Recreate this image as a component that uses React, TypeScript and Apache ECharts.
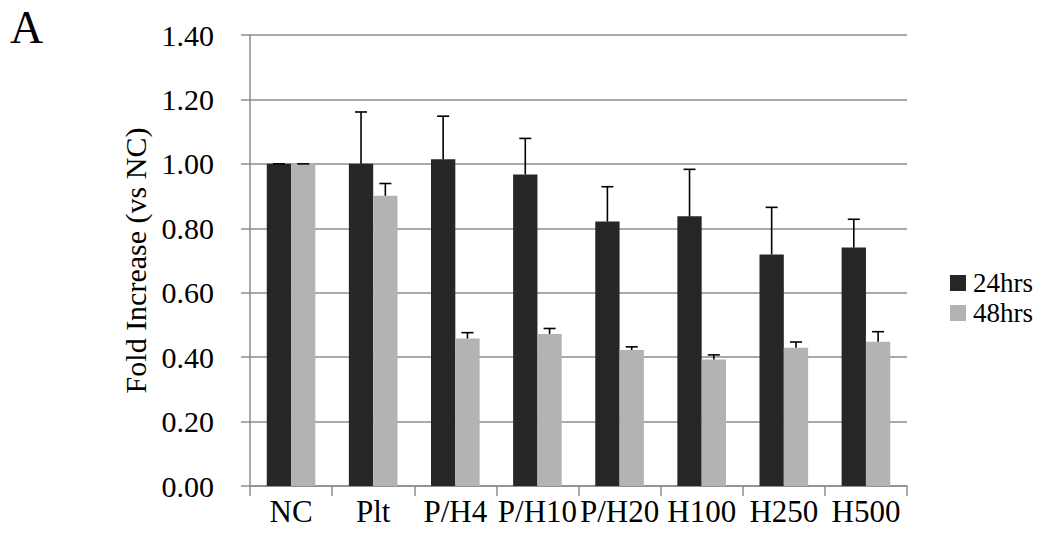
import React, { useEffect, useRef } from "react";
import * as echarts from "echarts";

const categories = ["NC", "Plt", "P/H4", "P/H10", "P/H20", "H100", "H250", "H500"];
const values24 = [1.0, 1.0, 1.014, 0.967, 0.821, 0.837, 0.719, 0.74];
const err24 = [0.0, 0.161, 0.134, 0.112, 0.108, 0.146, 0.146, 0.088];
const values48 = [1.0, 0.901, 0.458, 0.472, 0.422, 0.393, 0.429, 0.448];
const err48 = [0.0, 0.038, 0.018, 0.017, 0.01, 0.014, 0.018, 0.031];
const yTicks = { min: 0, max: 1.4, interval: 0.2 };

const FONT = "'Liberation Serif', 'Times New Roman', serif";
const BAR_FRACTION = 0.296;

function errorSeries(name: string, vals: number[], errs: number[], side: number) {
  return {
    type: "custom",
    name: name + "-err",
    data: vals.map((v, i) => [i, v, v + errs[i]]),
    z: 5,
    silent: true,
    renderItem: (params: any, api: any) => {
      const idx = api.value(0);
      const base = api.coord([idx, api.value(1)]);
      const top = api.coord([idx, api.value(2)]);
      const band = api.size([1, 0])[0];
      const x = base[0] + side * band * BAR_FRACTION / 2;
      const half = 6;
      const style = { stroke: "#000", lineWidth: 1.6 };
      return {
        type: "group",
        children: [
          { type: "line", shape: { x1: x, y1: base[1], x2: x, y2: top[1] }, style },
          { type: "line", shape: { x1: x - half, y1: top[1], x2: x + half, y2: top[1] }, style },
        ],
      };
    },
  };
}

const legendBase = {
  orient: "vertical",
  left: 950,
  icon: "rect",
  itemWidth: 16,
  itemHeight: 16,
  padding: 0,
  textStyle: { fontSize: 27, lineHeight: 30, fontFamily: FONT, color: "#000", padding: [0, 0, 0, 2] },
};

export default function App() {
  const ref = useRef<HTMLDivElement>(null);
  useEffect(() => {
    if (!ref.current) return;
    const chart = echarts.init(ref.current, undefined, { renderer: "svg" });
    chart.setOption({
      animation: false,
      backgroundColor: "#fff",
      textStyle: { fontFamily: FONT },
      graphic: [
        {
          type: "text",
          left: 10,
          top: 4,
          style: { text: "A", fontSize: 46, fontFamily: FONT, fill: "#000" },
        },
      ],
      legend: [
        { ...legendBase, top: 268, data: ["24hrs"] },
        { ...legendBase, top: 298, data: ["48hrs"] },
      ],
      grid: { left: 250, right: 145, top: 35, bottom: 57, containLabel: false },
      xAxis: {
        type: "category",
        data: categories,
        axisLine: { lineStyle: { color: "#8c8c8c", width: 1.5 } },
        axisTick: { show: true, interval: 0, length: 10, lineStyle: { color: "#8c8c8c", width: 1.5 } },
        axisLabel: { interval: 0, fontSize: 31, fontFamily: FONT, color: "#000", margin: 10 },
      },
      yAxis: {
        type: "value",
        min: yTicks.min,
        max: yTicks.max,
        interval: yTicks.interval,
        name: "Fold Increase (vs NC)",
        nameLocation: "middle",
        nameGap: 98,
        nameTextStyle: { fontSize: 30, fontFamily: FONT, color: "#000" },
        axisLine: { show: true, lineStyle: { color: "#8c8c8c", width: 1.5 } },
        axisTick: { show: true, length: 9, lineStyle: { color: "#8c8c8c", width: 1.5 } },
        axisLabel: {
          fontSize: 30,
          fontFamily: FONT,
          color: "#000",
          margin: 36,
          formatter: (v: number) => v.toFixed(2),
        },
        splitLine: { show: true, lineStyle: { color: "#8c8c8c", width: 1.5 } },
      },
      series: [
        {
          type: "bar",
          name: "24hrs",
          data: values24,
          barWidth: (BAR_FRACTION * 100).toFixed(1) + "%",
          barGap: "0%",
          itemStyle: { color: "#262626" },
        },
        {
          type: "bar",
          name: "48hrs",
          data: values48,
          barWidth: (BAR_FRACTION * 100).toFixed(1) + "%",
          barGap: "0%",
          itemStyle: { color: "#b3b3b3" },
        },
        errorSeries("24hrs", values24, err24, -1),
        errorSeries("48hrs", values48, err48, 1),
      ],
    });
    return () => chart.dispose();
  }, []);
  return (
    <div
      ref={ref}
      style={{ position: "absolute", left: 0, top: 0, width: 1052, height: 543, background: "#fff" }}
    />
  );
}
